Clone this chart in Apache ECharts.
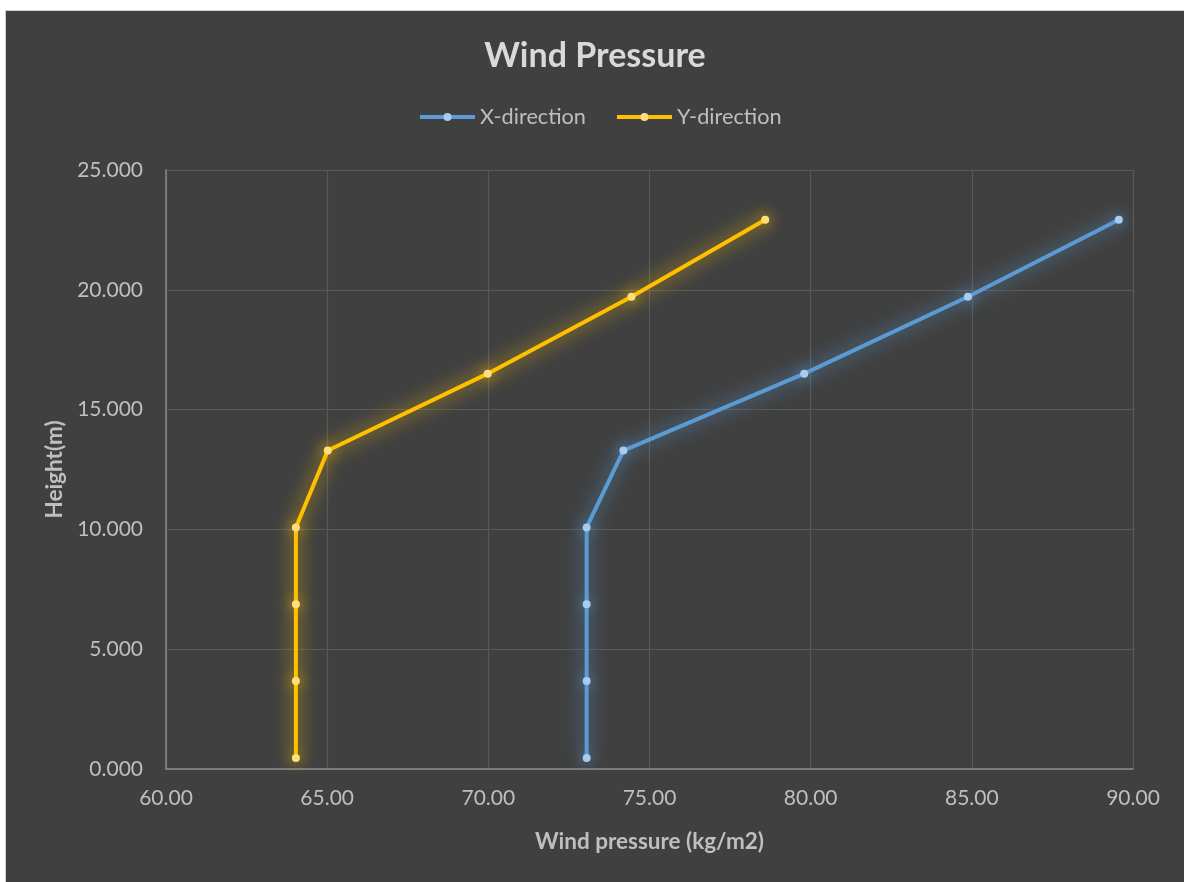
<!DOCTYPE html>
<html>
<head>
<meta charset="utf-8">
<script src="https://cdn.jsdelivr.net/npm/echarts@6/dist/echarts.min.js"></script>
<style>
  html, body { margin: 0; padding: 0; background: #ffffff; }
  #frame {
    position: absolute; left: 0; top: 0; width: 1184px; height: 882px;
    background: #ffffff; overflow: hidden;
  }
  #chart {
    position: absolute; left: 5px; top: 10px; width: 1179px; height: 872px;
    background: #404040;
    border-left: 1px solid #cfcfcf; border-top: 1px solid #cfcfcf;
    box-sizing: border-box;
  }
</style>
</head>
<body>
<div id="frame"><div id="chart"></div></div>
<script>
// Heights of the storey levels (m)
const heights = [0.46, 3.67, 6.875, 10.08, 13.29, 16.5, 19.71, 22.92];
// Wind pressure in each direction (kg/m2)
const pressureX = [73.05, 73.05, 73.05, 73.05, 74.19, 79.80, 84.88, 89.56];
const pressureY = [64.03, 64.03, 64.03, 64.03, 65.02, 69.98, 74.44, 78.59];
const seriesNames = ['X-direction', 'Y-direction'];

const pairs = (xs) => xs.map((x, i) => [x, heights[i]]);

const chart = echarts.init(document.getElementById('chart'));
const FONT = 'Lato, "Open Sans", sans-serif';

function lineSeries(name, values, color, markerColor) {
  return {
    name: name,
    type: 'line',
    data: pairs(values),
    symbol: 'circle',
    symbolSize: 8,
    itemStyle: { color: markerColor, borderWidth: 0, shadowBlur: 14, shadowColor: color },
    lineStyle: { color: color, width: 4, shadowBlur: 18, shadowColor: color },
    emphasis: { disabled: true },
    z: name === 'X-direction' ? 3 : 4
  };
}

chart.setOption({
  backgroundColor: '#404040',
  animation: false,
  textStyle: { fontFamily: FONT },
  title: {
    text: 'Wind Pressure',
    left: 'center',
    top: 23,
    textStyle: { color: '#d9d9d9', fontSize: 34, fontWeight: 'bold', fontFamily: FONT }
  },
  legend: {
    top: 90,
    left: 407,
    itemWidth: 55,
    itemHeight: 10,
    itemGap: 29,
    lineStyle: { width: 4, shadowBlur: 0 },
    itemStyle: { shadowBlur: 0 },
    textStyle: { color: '#bfbfbf', fontSize: 21.7, fontFamily: FONT },
    data: seriesNames
  },
  grid: { left: 160, right: 51, top: 159, bottom: 113 },
  xAxis: {
    type: 'value',
    min: 60, max: 90, interval: 5,
    name: 'Wind pressure (kg/m2)',
    nameLocation: 'middle',
    nameGap: 61,
    nameTextStyle: { color: '#bfbfbf', fontSize: 22.5, fontWeight: 'bold', fontFamily: FONT },
    axisLine: { show: true, lineStyle: { color: '#8a8a8a', width: 1.5 } },
    axisTick: { show: false },
    axisLabel: {
      color: '#bfbfbf', fontSize: 21, fontFamily: FONT, margin: 19,
      formatter: (v) => v.toFixed(2)
    },
    splitLine: { show: true, lineStyle: { color: '#595959', width: 1.2 } }
  },
  yAxis: {
    type: 'value',
    min: 0, max: 25, interval: 5,
    name: 'Height(m)',
    nameLocation: 'middle',
    nameGap: 99,
    nameRotate: 90,
    nameTextStyle: { color: '#bfbfbf', fontSize: 22.5, fontWeight: 'bold', fontFamily: FONT },
    axisLine: { show: true, lineStyle: { color: '#8a8a8a', width: 1.5 } },
    axisTick: { show: false },
    axisLabel: {
      color: '#bfbfbf', fontSize: 21, fontFamily: FONT, margin: 23,
      formatter: (v) => v.toFixed(3)
    },
    splitLine: { show: true, lineStyle: { color: '#595959', width: 1.2 } }
  },
  series: [
    lineSeries(seriesNames[0], pressureX, '#5b9bd5', '#a9cbed'),
    lineSeries(seriesNames[1], pressureY, '#ffc000', '#ffdf7a')
  ]
});
</script>
</body>
</html>
